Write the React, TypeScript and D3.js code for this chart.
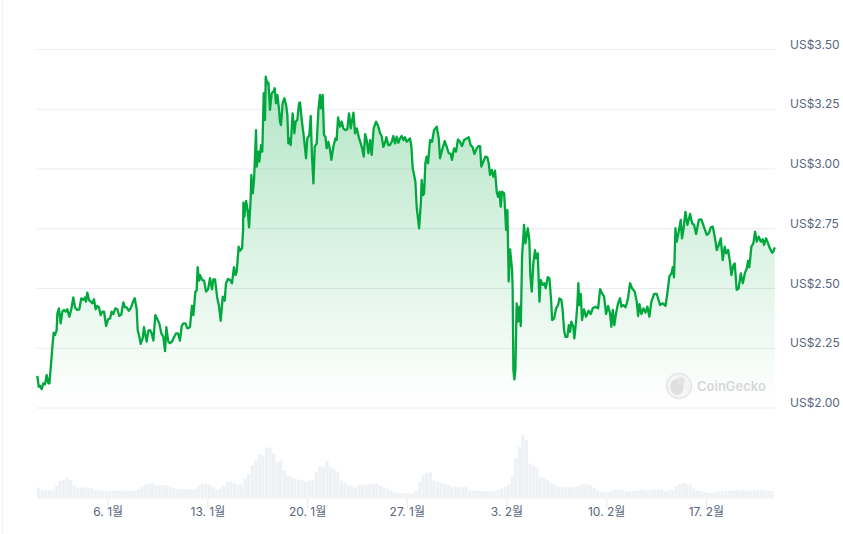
import React from 'react';
import * as d3 from 'd3';

// days since 1 Jan
const priceDays = [
  0.02, 0.12, 0.21, 0.33, 0.44, 0.56, 0.68, 0.8, 0.87, 0.98, 1.08, 1.17, 1.26, 1.38, 1.43, 1.54, 1.66, 1.78, 1.9, 2.01,
  2.13, 2.27, 2.41, 2.55, 2.67, 2.83, 2.97, 3.11, 3.25, 3.37, 3.44, 3.53, 3.65, 3.77, 3.89, 4.0, 4.12, 4.24, 4.35, 4.47,
  4.59, 4.71, 4.85, 4.99, 5.13, 5.24, 5.36, 5.5, 5.64, 5.78, 5.92, 6.06, 6.18, 6.3, 6.44, 6.58, 6.72, 6.86, 7.0, 7.07,
  7.19, 7.28, 7.42, 7.51, 7.61, 7.7, 7.82, 7.94, 8.05, 8.17, 8.31, 8.45, 8.59, 8.73, 8.87, 8.99, 9.08, 9.22, 9.34, 9.48,
  9.62, 9.76, 9.9, 10.04, 10.16, 10.28, 10.42, 10.56, 10.74, 10.88, 10.98, 11.12, 11.21, 11.28, 11.38, 11.45, 11.59, 11.73, 11.87, 12.01,
  12.15, 12.29, 12.38, 12.5, 12.66, 12.78, 12.9, 13.04, 13.18, 13.27, 13.41, 13.55, 13.69, 13.83, 13.93, 14.02, 14.16, 14.26, 14.4, 14.47,
  14.49, 14.56, 14.68, 14.79, 14.89, 15.0, 15.05, 15.15, 15.24, 15.38, 15.43, 15.54, 15.61, 15.73, 15.82, 15.92, 16.01, 16.06, 16.17, 16.25,
  16.36, 16.48, 16.6, 16.69, 16.78, 16.88, 17.0, 17.06, 17.13, 17.25, 17.37, 17.49, 17.58, 17.65, 17.72, 17.81, 17.95, 18.07, 18.16, 18.28,
  18.4, 18.47, 18.59, 18.75, 18.89, 18.98, 19.12, 19.22, 19.31, 19.41, 19.5, 19.64, 19.76, 19.87, 19.94, 20.06, 20.15, 20.25, 20.34, 20.46,
  20.58, 20.67, 20.81, 20.95, 21.04, 21.14, 21.28, 21.4, 21.51, 21.63, 21.79, 21.91, 22.03, 22.22, 22.33, 22.45, 22.62, 22.73, 22.83, 22.94,
  23.04, 23.15, 23.27, 23.39, 23.5, 23.64, 23.81, 23.95, 24.09, 24.2, 24.32, 24.44, 24.53, 24.67, 24.79, 24.91, 25.02, 25.14, 25.26, 25.37,
  25.49, 25.61, 25.73, 25.84, 25.96, 26.08, 26.19, 26.29, 26.38, 26.48, 26.57, 26.66, 26.83, 26.95, 27.01, 27.11, 27.18, 27.27, 27.36, 27.46,
  27.6, 27.74, 27.88, 28.07, 28.21, 28.3, 28.44, 28.63, 28.77, 28.91, 29.05, 29.14, 29.28, 29.42, 29.56, 29.7, 29.84, 29.99, 30.17, 30.31,
  30.45, 30.59, 30.71, 30.87, 30.99, 31.11, 31.2, 31.34, 31.48, 31.62, 31.72, 31.81, 31.93, 32.04, 32.16, 32.28, 32.37, 32.47, 32.56, 32.65,
  32.8, 32.87, 32.94, 33.03, 33.12, 33.22, 33.36, 33.4, 33.45, 33.52, 33.59, 33.68, 33.78, 33.87, 33.97, 34.06, 34.11, 34.2, 34.29, 34.46,
  34.57, 34.64, 34.74, 34.85, 34.97, 35.04, 35.16, 35.28, 35.37, 35.51, 35.63, 35.72, 35.86, 35.98, 36.1, 36.17, 36.31, 36.45, 36.59, 36.68,
  36.82, 36.91, 37.01, 37.1, 37.24, 37.34, 37.43, 37.52, 37.66, 37.73, 37.85, 37.94, 38.01, 38.08, 38.18, 38.27, 38.41, 38.55, 38.74, 38.88,
  39.02, 39.21, 39.4, 39.54, 39.68, 39.82, 39.96, 40.1, 40.24, 40.33, 40.43, 40.54, 40.66, 40.8, 40.94, 41.03, 41.18, 41.32, 41.41, 41.5,
  41.64, 41.78, 41.97, 42.11, 42.21, 42.3, 42.44, 42.58, 42.72, 42.86, 43.0, 43.14, 43.33, 43.52, 43.75, 43.94, 44.13, 44.26, 44.41, 44.55,
  44.64, 44.73, 44.83, 44.92, 45.06, 45.2, 45.29, 45.39, 45.53, 45.67, 45.86, 46.0, 46.14, 46.28, 46.47, 46.65, 46.84, 47.03, 47.17, 47.31,
  47.45, 47.59, 47.73, 47.87, 48.01, 48.15, 48.29, 48.39, 48.53, 48.67, 48.76, 48.9, 48.99, 49.13, 49.27, 49.42, 49.56, 49.7, 49.84, 49.93,
  50.02, 50.16, 50.3, 50.42, 50.54, 50.68, 50.82, 50.96, 51.05, 51.19, 51.29, 51.43, 51.62, 51.71, 51.8,
];

const prices = [
  2.134, 2.089, 2.093, 2.079, 2.103, 2.099, 2.138, 2.103, 2.103, 2.18, 2.257, 2.315, 2.305, 2.326, 2.396, 2.417, 2.354, 2.403, 2.41, 2.403,
  2.413, 2.382, 2.413, 2.463, 2.421, 2.41, 2.413, 2.459, 2.452, 2.463, 2.445, 2.483, 2.452, 2.445, 2.438, 2.455, 2.413, 2.427, 2.421, 2.389,
  2.403, 2.403, 2.343, 2.371, 2.375, 2.403, 2.393, 2.417, 2.413, 2.385, 2.392, 2.442, 2.421, 2.421, 2.407, 2.417, 2.441, 2.459, 2.413, 2.326,
  2.298, 2.268, 2.291, 2.338, 2.305, 2.278, 2.324, 2.326, 2.312, 2.282, 2.389, 2.371, 2.354, 2.312, 2.298, 2.238, 2.338, 2.278, 2.271, 2.278,
  2.296, 2.312, 2.312, 2.282, 2.343, 2.354, 2.354, 2.333, 2.338, 2.427, 2.389, 2.487, 2.491, 2.589, 2.533, 2.556, 2.536, 2.533, 2.487, 2.497,
  2.543, 2.497, 2.538, 2.538, 2.459, 2.427, 2.365, 2.466, 2.449, 2.522, 2.54, 2.536, 2.522, 2.589, 2.556, 2.57, 2.675, 2.658, 2.668, 2.745,
  2.859, 2.801, 2.867, 2.828, 2.756, 2.87, 2.975, 2.898, 2.954, 3.163, 3.01, 3.073, 3.031, 3.1, 3.073, 3.317, 3.205, 3.386, 3.358, 3.361,
  3.247, 3.317, 3.324, 3.338, 3.275, 3.31, 3.247, 3.198, 3.184, 3.275, 3.296, 3.268, 3.226, 3.107, 3.128, 3.1, 3.233, 3.149, 3.198, 3.205,
  3.275, 3.278, 3.205, 3.128, 3.045, 3.128, 3.142, 3.222, 3.052, 2.94, 3.093, 3.107, 3.247, 3.31, 3.254, 3.31, 3.142, 3.135, 3.086, 3.114,
  3.079, 3.038, 3.093, 3.128, 3.121, 3.216, 3.177, 3.198, 3.17, 3.163, 3.166, 3.233, 3.17, 3.236, 3.149, 3.17, 3.128, 3.107, 3.086, 3.052,
  3.146, 3.121, 3.066, 3.121, 3.059, 3.17, 3.198, 3.181, 3.149, 3.138, 3.093, 3.11, 3.133, 3.1, 3.1, 3.114, 3.138, 3.107, 3.135, 3.11,
  3.128, 3.138, 3.121, 3.133, 3.114, 3.121, 3.128, 3.093, 3.003, 2.975, 2.947, 2.842, 2.752, 2.856, 2.954, 2.891, 2.898, 3.024, 3.052, 3.024,
  3.121, 3.114, 3.163, 3.177, 3.128, 3.045, 3.079, 3.117, 3.093, 3.066, 3.063, 3.038, 3.086, 3.073, 3.124, 3.114, 3.096, 3.121, 3.128, 3.133,
  3.1, 3.091, 3.063, 3.086, 3.096, 3.096, 3.01, 3.031, 3.052, 3.049, 3.024, 2.975, 2.996, 2.968, 2.993, 2.905, 2.884, 2.905, 2.842, 2.905,
  2.898, 2.828, 2.745, 2.828, 2.529, 2.664, 2.577, 2.494, 2.159, 2.12, 2.159, 2.438, 2.361, 2.424, 2.343, 2.633, 2.682, 2.766, 2.689, 2.752,
  2.703, 2.556, 2.487, 2.605, 2.661, 2.626, 2.647, 2.445, 2.536, 2.515, 2.522, 2.501, 2.547, 2.543, 2.452, 2.368, 2.375, 2.417, 2.431, 2.459,
  2.452, 2.41, 2.326, 2.298, 2.298, 2.347, 2.319, 2.361, 2.34, 2.291, 2.361, 2.431, 2.522, 2.431, 2.477, 2.368, 2.413, 2.382, 2.407, 2.393,
  2.417, 2.424, 2.417, 2.497, 2.48, 2.466, 2.393, 2.427, 2.396, 2.34, 2.41, 2.347, 2.396, 2.438, 2.459, 2.424, 2.431, 2.421, 2.438, 2.459,
  2.522, 2.501, 2.487, 2.445, 2.385, 2.435, 2.393, 2.417, 2.399, 2.424, 2.382, 2.445, 2.477, 2.477, 2.431, 2.438, 2.427, 2.48, 2.552, 2.563,
  2.589, 2.547, 2.752, 2.696, 2.738, 2.787, 2.71, 2.745, 2.821, 2.766, 2.812, 2.773, 2.766, 2.728, 2.787, 2.789, 2.756, 2.724, 2.731, 2.756,
  2.759, 2.717, 2.661, 2.682, 2.71, 2.619, 2.675, 2.647, 2.661, 2.605, 2.556, 2.598, 2.605, 2.494, 2.501, 2.563, 2.522, 2.563, 2.584, 2.616,
  2.589, 2.675, 2.689, 2.738, 2.696, 2.717, 2.696, 2.706, 2.682, 2.71, 2.696, 2.672, 2.65, 2.654, 2.672,
];

// one bar every 6 hours, millions
const volumes = [
  33, 25, 25, 24, 25, 40, 52, 55, 62, 55, 40, 32, 33, 33, 32, 31, 25, 25, 23, 21,
  23, 24, 24, 23, 25, 24, 23, 23, 27, 35, 43, 45, 47, 40, 40, 40, 39, 35, 30, 28,
  29, 28, 28, 27, 30, 38, 45, 44, 42, 33, 27, 30, 40, 50, 51, 47, 42, 42, 60, 75,
  100, 115, 133, 130, 150, 153, 135, 110, 115, 83, 70, 65, 60, 57, 55, 50, 53, 55, 80, 97,
  95, 113, 95, 88, 80, 55, 47, 40, 38, 33, 40, 42, 42, 45, 43, 44, 40, 33, 29, 23,
  19, 16, 16, 15, 15, 15, 25, 50, 70, 78, 78, 55, 50, 47, 45, 41, 35, 35, 35, 34,
  34, 24, 24, 24, 23, 22, 22, 22, 21, 25, 30, 35, 40, 65, 120, 155, 190, 175, 105, 97,
  90, 63, 63, 55, 47, 43, 35, 34, 35, 35, 33, 35, 40, 43, 43, 40, 33, 22, 20, 18,
  18, 23, 27, 27, 27, 22, 21, 22, 23, 27, 25, 23, 27, 27, 27, 27, 21, 23, 27, 37,
  43, 47, 43, 42, 30, 24, 22, 20, 17, 16, 18, 20, 23, 23, 23, 23, 25, 25, 25, 24,
  24, 25, 25, 25, 25, 23, 22,
];

const yTicks = [2, 2.25, 2.5, 2.75, 3, 3.25, 3.5];
const xTickDays = [5, 12, 19, 26, 33, 40, 47];
const xTickLabels = ['6. 1월', '13. 1월', '20. 1월', '27. 1월', '3. 2월', '10. 2월', '17. 2월'];

const width = 843;
const height = 534;
const fontFamily = 'Inter, "Noto Sans CJK KR", sans-serif';

const x = d3.scaleLinear().domain([0, 51.82]).range([37, 775]);
const y = d3.scaleLinear().domain([2, 3.5]).range([408, 49.5]);
const yVol = d3.scaleLinear().domain([0, 193]).range([498.5, 434]);

const points = priceDays.map((d, i) => [d, prices[i]] as [number, number]);

const line = d3.line<[number, number]>()
  .x(d => x(d[0]))
  .y(d => y(d[1]));

const area = d3.area<[number, number]>()
  .x(d => x(d[0]))
  .y0(y(2))
  .y1(d => y(d[1]));

const App: React.FC = () => {
  const barStep = x(0.25) - x(0);

  return (
    <svg
      width={width}
      height={height}
      viewBox={`0 0 ${width} ${height}`}
      style={{ position: 'absolute', left: 0, top: 0, background: '#fff' }}
    >
      <defs>
        <linearGradient id="price-fill" gradientUnits="userSpaceOnUse" x1="0" y1={y(3.386)} x2="0" y2={y(2.02)}>
          <stop offset="0%" stopColor="#00a83e" stopOpacity={0.3} />
          <stop offset="100%" stopColor="#00a83e" stopOpacity={0} />
        </linearGradient>
      </defs>

      {/* left edge of the card */}
      <line x1={2.5} x2={2.5} y1={0} y2={height} stroke="#eff2f5" />

      {yTicks.map(t => (
        <g key={t}>
          <line x1={37} x2={775} y1={y(t)} y2={y(t)} stroke="#e9ecf0" />
          <text x={790} y={y(t) - 1} fontSize={12} fontFamily={fontFamily} fill="#58667e">
            {`US$${t.toFixed(2)}`}
          </text>
        </g>
      ))}

      {volumes.map((v, i) => (
        <rect
          key={i}
          x={x(i * 0.25)}
          y={yVol(v)}
          width={barStep - 0.3}
          height={yVol(0) - yVol(v)}
          fill="#eff2f5"
        />
      ))}

      {xTickDays.map((d, i) => (
        <g key={d}>
          <line x1={x(d)} x2={x(d)} y1={498.5} y2={508} stroke="#e6e9ee" />
          <text x={x(d)} y={516} textAnchor="middle" fontSize={12} fontFamily={fontFamily} fill="#58667e">
            {xTickLabels[i]}
          </text>
        </g>
      ))}

      <path d={area(points) ?? ''} fill="url(#price-fill)" />
      <path d={line(points) ?? ''} fill="none" stroke="#00a83e" strokeWidth={2.3} strokeLinejoin="round" />

      {/* watermark */}
      <g opacity={0.9}>
        <circle cx={679} cy={386} r={12.5} fill="#f4f4f4" stroke="#e4e4e4" strokeWidth={1.5} />
        <ellipse cx={677} cy={387} rx={6.5} ry={8} fill="#dcdcdc" />
        <circle cx={681} cy={381} r={4} fill="#e2e2e2" />
        <text x={697} y={390.5} fontSize={13} fontWeight={600} fontFamily={fontFamily} fill="#d4d4d4">
          CoinGecko
        </text>
      </g>
    </svg>
  );
};

export default App;
